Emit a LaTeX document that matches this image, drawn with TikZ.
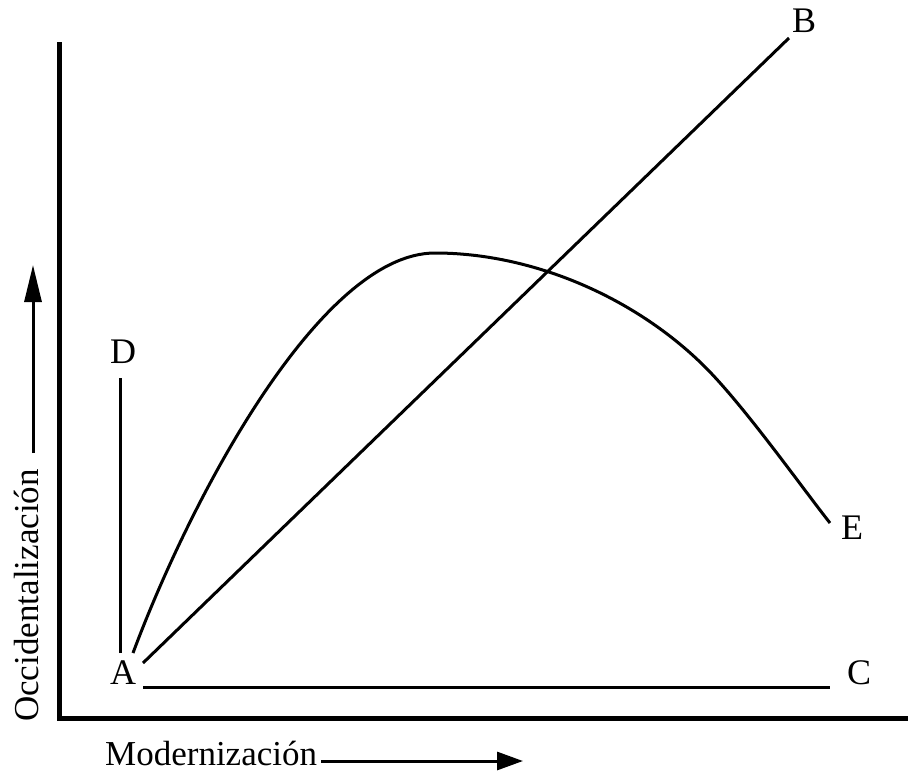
\documentclass[tikz,border=0pt]{standalone}
\usepackage{fontspec}
\setmainfont{Liberation Serif}
\usetikzlibrary{arrows.meta}
\begin{document}
\begin{tikzpicture}[x=1pt,y=-1pt,
  lbl/.style={inner sep=0pt,font=\fontsize{36}{42}\selectfont},
  axlbl/.style={inner sep=0pt,font=\fontsize{35}{42}\selectfont},
  thinln/.style={line width=3pt},
  axisln/.style={line width=5pt,line join=miter}]
\useasboundingbox (0,0) rectangle (910,774);
% axes
\coordinate (ytop) at (59,42);
\coordinate (orig) at (59,718);
\coordinate (xend) at (908,718);
\draw[axisln] (ytop) -- (orig) -- (xend);
% labels
\node[lbl] (A) at (123,673) {A};
\node[lbl] (D) at (123,352) {D};
\node[lbl] (B) at (804,21) {B};
\node[lbl] (E) at (852,528) {E};
\node[lbl] (C) at (859,673) {C};
% connectors
\coordinate (a1) at (120,653); \coordinate (d1) at (120,378);
\coordinate (a2) at (143,663); \coordinate (b1) at (789,38);
\coordinate (a3) at (143,687); \coordinate (c1) at (830,687);
\coordinate (a4) at (133,653); \coordinate (pk) at (435,253);
\coordinate (mid) at (700,362); \coordinate (e1) at (830,523);
\draw[thinln] (a1) -- (d1);
\draw[thinln] (a2) -- (b1);
\draw[thinln] (a3) -- (c1);
\draw[thinln] (a4) .. controls (190,500) and (320,253) .. (pk)
  .. controls (530,253) and (630,295) .. (mid)
  .. controls (740,400) and (800,485) .. (e1);
% axis titles
\node[axlbl,rotate=90,anchor=base west] (ylab) at (38,722) {Occidentalización};
\coordinate (yarr0) at (33,453); \coordinate (yarr1) at (33,265);
\draw[line width=3pt,-{Triangle[length=37pt,width=17pt]}] (yarr0) -- (yarr1);
\node[axlbl,anchor=base west] (xlab) at (105,765) {Modernización};
\coordinate (xarr0) at (321,761); \coordinate (xarr1) at (523,761);
\draw[line width=3pt,-{Triangle[length=26pt,width=18pt]}] (xarr0) -- (xarr1);
\end{tikzpicture}
\end{document}
